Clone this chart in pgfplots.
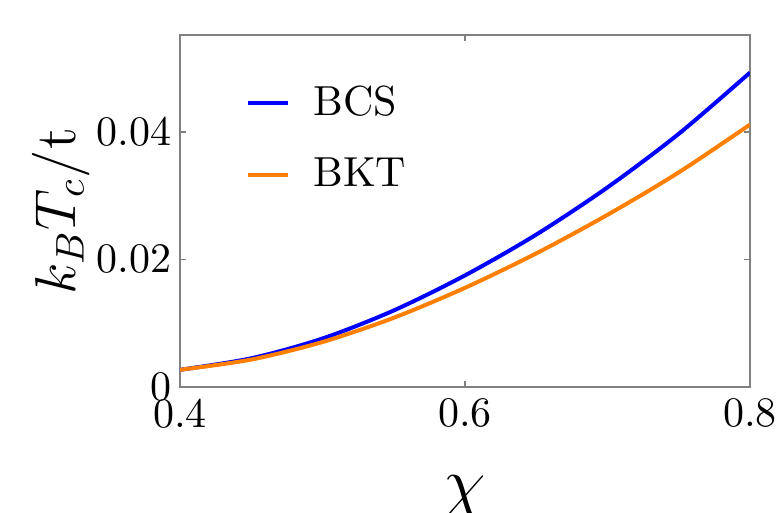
\documentclass[border=0pt]{standalone}
\usepackage{pgfplots}
\pgfplotsset{compat=1.18}
\definecolor{frame}{rgb}{0.5,0.5,0.5}
\definecolor{bcsblue}{rgb}{0,0,1}
\definecolor{bktorange}{rgb}{1,0.5,0}
\begin{document}
\begin{tikzpicture}
\begin{axis}[
  at={(45pt,31.5pt)}, anchor=south west,
  scale only axis, width=142.5pt, height=88pt,
  xmin=0.4, xmax=0.8, ymin=0, ymax=0.0552,
  scaled y ticks=false, scaled x ticks=false,
  xtick={0.4,0.6,0.8}, xticklabels={0.4,0.6,0.8},
  ytick={0,0.02,0.04}, yticklabels={0,0.02,0.04},
  tick align=inside, tick pos=both,
  major tick length=1.5pt,
  every tick/.style={frame, line width=0.35pt},
  axis line style={frame, line width=0.35pt},
  ticklabel style={font=\fontsize{10.5}{12.6}\selectfont, inner sep=2pt},
  xticklabel style={yshift=-0.75pt},
  xlabel={$\chi$},
  ylabel={$k_B T_c/\mathrm{t}$},
  xlabel style={font=\fontsize{16.5}{19.8}\selectfont, at={(axis description cs:0.5,-0.338)}, anchor=base},
  ylabel style={font=\fontsize{14}{16.8}\selectfont, at={(axis description cs:-0.1842,0.5)}, anchor=base},
  legend style={draw=none, fill=none, at={(rel axis cs:0.093,0.881)}, anchor=north west,
    font=\fontsize{10.5}{12.6}\selectfont, nodes={inner sep=0pt}, row sep=9.2pt, column sep=5.9pt},
  legend cell align=left,
  legend image code/.code={\path (0pt,2pt); \draw[#1] (0pt,0pt) -- (10pt,0pt);},
]
\addplot[bcsblue, line width=1pt, smooth] coordinates {
 (0.40,0.0027) (0.45,0.0045) (0.50,0.0076) (0.55,0.0120) (0.60,0.0175)
 (0.65,0.0239) (0.70,0.0313) (0.75,0.0397) (0.80,0.0493)};
\addlegendentry{BCS}
\addplot[bktorange, line width=1pt, smooth] coordinates {
 (0.40,0.0027) (0.45,0.0043) (0.50,0.00705) (0.55,0.01085) (0.60,0.01555)
 (0.65,0.02095) (0.70,0.0270) (0.75,0.03365) (0.80,0.04115)};
\addlegendentry{BKT}
\end{axis}
\pgfresetboundingbox
\useasboundingbox (0,0) rectangle (194pt,128.25pt);
\end{tikzpicture}
\end{document}
